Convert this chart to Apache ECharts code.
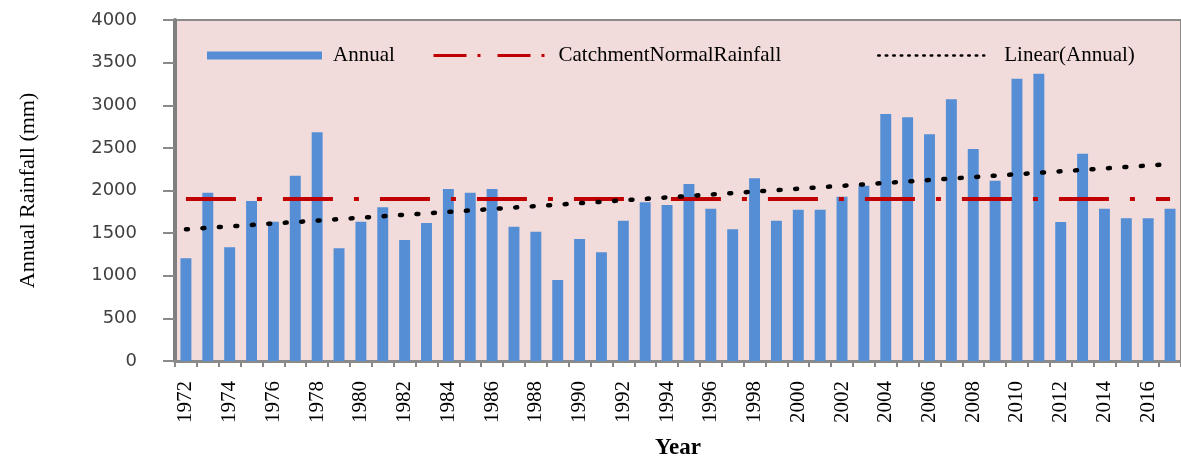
<!DOCTYPE html>
<html>
<head>
<meta charset="utf-8">
<script src="https://cdn.jsdelivr.net/npm/echarts@6/dist/echarts.min.js"></script>
<style>html,body{margin:0;padding:0;background:#fff}#c{width:1181px;height:459px}</style>
</head>
<body>
<div id="c"></div>
<script>
var years = ['1972','1973','1974','1975','1976','1977','1978','1979','1980','1981','1982','1983','1984','1985','1986','1987','1988','1989','1990','1991','1992','1993','1994','1995','1996','1997','1998','1999','2000','2001','2002','2003','2004','2005','2006','2007','2008','2009','2010','2011','2012','2013','2014','2015','2016','2017'];
var annual = [1205,1975,1333,1877,1634,2174,2682,1322,1634,1803,1419,1619,2018,1975,2018,1576,1517,950,1431,1275,1646,1861,1830,2076,1787,1545,2143,1646,1775,1775,1927,2056,2897,2858,2659,3070,2487,2115,3312,3370,1630,2432,1787,1674,1674,1787];
var normalLine = [['1972',1900],['2017',1900]];
var trendLine = [['1972',1545],['2017',2310]];
var yTicks = [0,500,1000,1500,2000,2500,3000,3500,4000];

var chart = echarts.init(document.getElementById('c'));
var serif = 'Liberation Serif';
function lt(padLeft) { return {fontFamily: serif, fontSize: 21, color: '#000', padding: [0, 0, 0, padLeft]}; }
chart.setOption({
  animation: false,
  grid: {left: 175, right: 0, top: 20, bottom: 98, outerBoundsMode: 'none', containLabel: false,
         show: true, backgroundColor: '#F2DCDB', borderColor: '#8a8a8a', borderWidth: 2},
  legend: [
    {data: [{name: 'Annual', icon: 'rect'}], left: 207, top: 45, itemWidth: 115, itemHeight: 8, itemGap: 0, textStyle: lt(6), padding: 0},
    {data: [{name: 'CatchmentNormalRainfall', itemStyle: {opacity: 0}}], left: 432, top: 45, itemWidth: 115, itemHeight: 8, textStyle: lt(5), padding: 0,
     lineStyle: {type: [33, 11, 3, 17], width: 3, color: '#C00000'}},
    {data: [{name: 'Linear(Annual)', itemStyle: {opacity: 0}}], left: 877, top: 45, itemWidth: 106, itemHeight: 8, textStyle: lt(15), padding: 0,
     lineStyle: {type: [1.5, 6], width: 2.5, color: '#000', cap: 'round'}}
  ],
  xAxis: {
    type: 'category', data: years, boundaryGap: true,
    name: 'Year', nameLocation: 'middle', nameGap: 76,
    nameTextStyle: {fontFamily: serif, fontSize: 23, fontWeight: 'bold', color: '#000'},
    axisLine: {lineStyle: {color: '#8a8a8a', width: 3}},
    axisTick: {show: true, interval: 0, length: 6, lineStyle: {color: '#8a8a8a', width: 2}},
    axisLabel: {interval: 1, rotate: 90, margin: 20, fontFamily: serif, fontSize: 21, color: '#000'}
  },
  yAxis: {
    type: 'value', min: 0, max: 4000, interval: 500,
    name: 'Annual Rainfall (mm)', nameLocation: 'middle', nameGap: 136, nameRotate: 90,
    nameTextStyle: {fontFamily: serif, fontSize: 22, color: '#000'},
    axisLine: {show: true, lineStyle: {color: '#7f7f7f', width: 4}},
    axisTick: {show: true, length: 12, lineStyle: {color: '#8a8a8a', width: 2}},
    splitLine: {show: false},
    axisLabel: {margin: 38, fontFamily: 'DejaVu Sans', fontSize: 18, color: '#404040',
      formatter: function (v) { return yTicks.indexOf(v) >= 0 ? String(v) : ''; }}
  },
  series: [
    {name: 'Annual', type: 'bar', data: annual, barWidth: '50%', itemStyle: {color: '#558ED5'}, z: 2},
    {name: 'CatchmentNormalRainfall', type: 'line', data: normalLine, symbol: 'none', z: 3,
     lineStyle: {color: '#C00000', width: 4, type: [50, 21, 5, 21]}, itemStyle: {color: '#C00000'}},
    {name: 'Linear(Annual)', type: 'line', data: trendLine, symbol: 'none', z: 4,
     lineStyle: {color: '#000', width: 4.5, type: [2, 14.5], cap: 'round'}, itemStyle: {color: '#000'}}
  ]
});
</script>
</body>
</html>
